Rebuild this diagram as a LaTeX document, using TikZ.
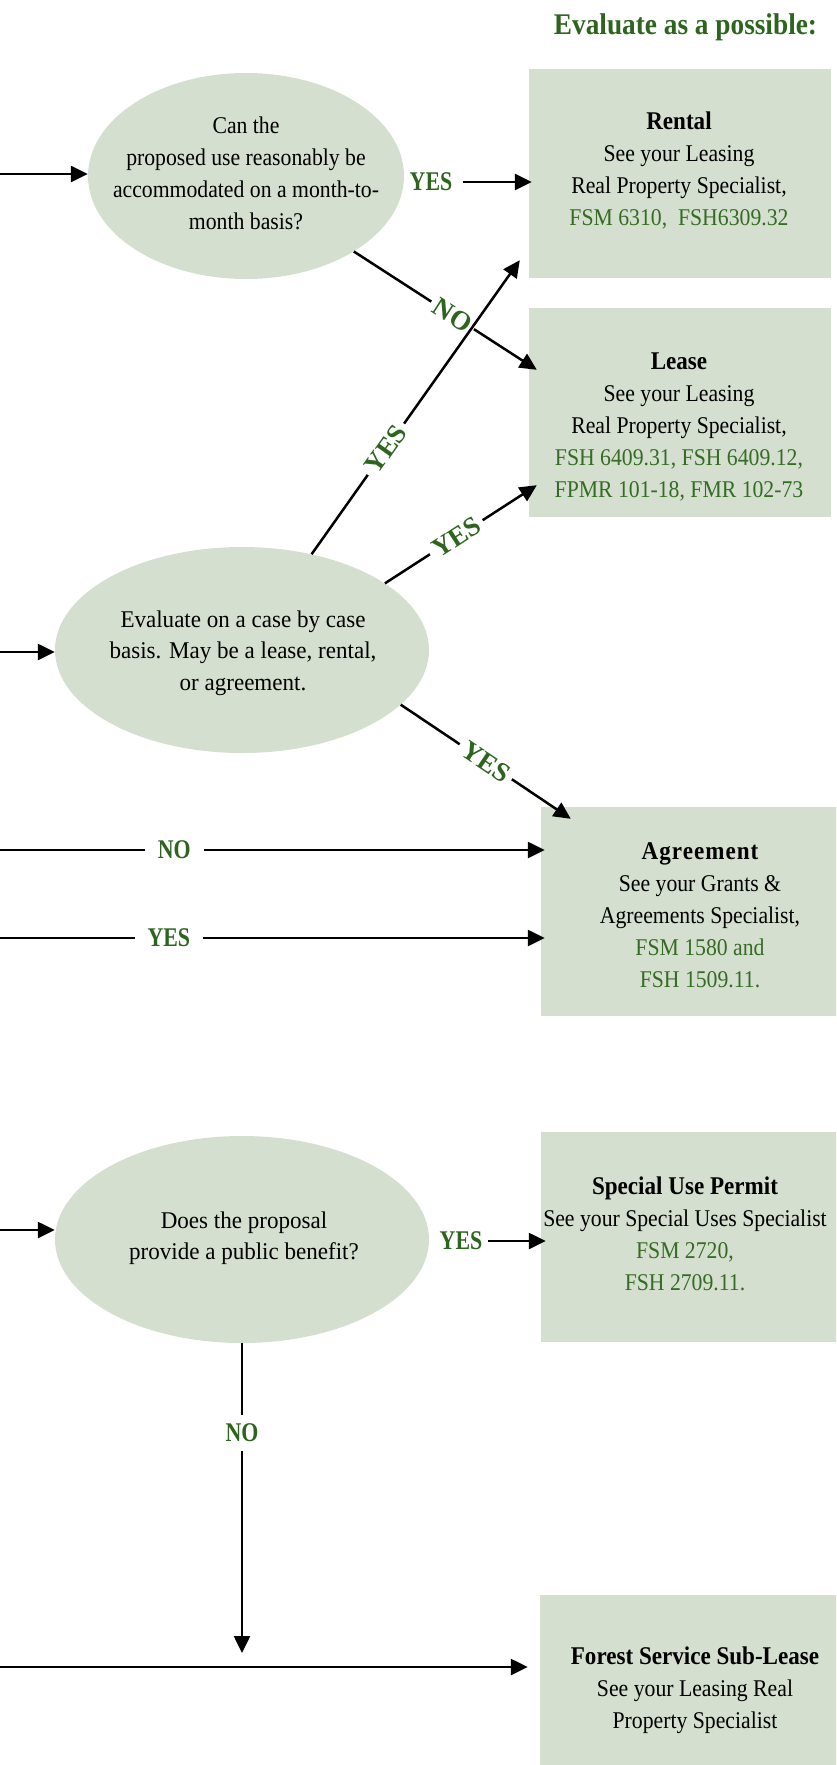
\documentclass[tikz,border=0pt]{standalone}
\usepackage{fontspec}
\setmainfont{Liberation Serif}[FakeStretch=0.905]
\newfontfamily\ellfont{Liberation Serif}[FakeStretch=0.96]
\newfontfamily\titlefont{Liberation Serif}[FakeStretch=0.91]
\newfontfamily\labfont{Liberation Serif}[FakeStretch=0.81]
\newfontfamily\diagfont{Liberation Serif}
\newfontfamily\spacedfont{Liberation Serif}[FakeStretch=0.905, LetterSpace=4]
\usetikzlibrary{arrows.meta,shapes.geometric,calc}
\definecolor{sage}{RGB}{213,223,207}
\definecolor{tgreen}{RGB}{52,108,35}
\definecolor{lgreen}{RGB}{45,100,30}
\newcommand{\hdg}[1]{{\fontsize{25.5}{32}\selectfont\bfseries #1}}
\newcommand{\grn}[1]{\textcolor{tgreen}{#1}}
\tikzset{
  box/.style={rectangle, fill=sage, draw=none, inner sep=0pt},
  ell/.style={ellipse, fill=sage, draw=none, inner sep=0pt},
  txt/.style={align=center, inner sep=0pt, font={\fontsize{24}{32}\selectfont}},
  etxt/.style={align=center, inner sep=0pt, font={\ellfont\fontsize{24}{31.5}\selectfont}},
  arr/.style={line width=2.5pt, -{Triangle[length=17pt,width=16pt]}},
  hlab/.style={fill=white, text=lgreen, font={\labfont\bfseries\fontsize{27}{30}\selectfont}, inner xsep=13pt, inner ysep=2pt},
  plab/.style={text=lgreen, font={\labfont\bfseries\fontsize{27}{30}\selectfont}, inner sep=0pt},
  dlab/.style={fill=white, text=lgreen, font={\diagfont\bfseries\fontsize{27}{30}\selectfont}, sloped, inner xsep=5pt, inner ysep=0pt},
}
\begin{document}
\begin{tikzpicture}[x=1pt,y=-1pt]
\useasboundingbox (0,0) rectangle (836,1765);
\clip (0,0) rectangle (836,1765);

% title
\node[text=lgreen, inner sep=0pt, font={\titlefont\bfseries\fontsize{30}{34}\selectfont}] (title) at (685.5,27) {Evaluate as a possible:};

% ellipses
\node[ell, minimum width=316pt, minimum height=206pt] (e1) at (246,176) {};
\node[txt] (e1t) at (246,173) {Can the\\proposed use reasonably be\\accommodated on a month-to-\\month basis?};
\node[ell, minimum width=374pt, minimum height=206pt] (e2) at (242,650) {};
\node[etxt] (e2t) at (243,653) {Evaluate on a case by case\\basis. May be a lease, rental,\\or agreement.};
\node[ell, minimum width=374pt, minimum height=207pt] (e3) at (242,1239.5) {};
\node[etxt] (e3t) at (244,1238) {Does the proposal\\provide a public benefit?};

% boxes
\node[box, minimum width=302pt, minimum height=209pt] (rental) at (680,173.5) {};
\node[txt] (rentalt) at (679,170) {\hdg{Rental}\\See your Leasing\\Real Property Specialist,\\\grn{FSM 6310,\ \ FSH6309.32}};
\node[box, minimum width=302pt, minimum height=209pt] (lease) at (680,412.5) {};
\node[txt] (leaset) at (679,427) {\hdg{Lease}\\See your Leasing\\Real Property Specialist,\\\grn{FSH 6409.31, FSH 6409.12,}\\\grn{FPMR 101-18, FMR 102-73}};
\node[box, minimum width=309pt, minimum height=209pt] (agr) at (695.5,911.5) {};
\node[txt] (agrt) at (700,915.5) {{\spacedfont\bfseries\fontsize{25.5}{32}\selectfont Agreement}\\See your Grants \&\\Agreements Specialist,\\\grn{FSM 1580 and}\\\grn{FSH 1509.11.}};
\node[box, minimum width=309pt, minimum height=210pt] (sup) at (695.5,1237) {};
\node[txt] (supt) at (685,1234) {\hdg{Special Use Permit}\\See your Special Uses Specialist\\\grn{FSM 2720,}\\\grn{FSH 2709.11.}};
\node[box, minimum width=310pt, minimum height=205pt] (fssl) at (695,1697.5) {};
\node[txt] (fsslt) at (695,1690) {\hdg{Forest Service Sub-Lease}\\See your Leasing Real\\Property Specialist};

% incoming arrows from the left edge
\coordinate (in1) at (0,174);
\coordinate (in2) at (0,652);
\coordinate (inNO) at (0,850);
\coordinate (inYES) at (0,938);
\coordinate (in3) at (0,1230);
\coordinate (in5) at (0,1667);
\coordinate (noend) at (242,1653);

\draw[arr] (in1) -- (in1 -| e1.west);
\draw[arr] (in2) -- (in2 -| e2.west);
\draw[arr] (in3) -- (in3 -| e3.west);
\draw[arr] (inNO) -- ([xshift=4pt]inNO -| agr.west) node[hlab, pos=0.32] (lno) {NO};
\draw[arr] (inYES) -- ([xshift=4pt]inYES -| agr.west) node[hlab, pos=0.31] (lyes) {YES};
\draw[arr] (in5) -- ([xshift=-12pt]in5 -| fssl.west);

% ellipse 1
\node[plab] (l1) at (431,182) {YES};
\draw[arr] ([xshift=11pt]l1.east) -- ([xshift=3pt]l1.east -| rental.west);
\draw[arr] (e1.-35) -- ($(lease.north west)+(8,62)$)
  node[dlab, pos=0.54] (l2) {NO};

% ellipse 2
\draw[arr] (e2.25) -- ($(lease.south west)+(8,-32)$)
  node[dlab, pos=0.47] (l4) {YES};
\draw[arr] (e2.-19) -- ($(agr.north west)+(30,12)$)
  node[dlab, pos=0.5] (l5) {YES};
\draw[arr] (e2.54) -- ($(rental.south west)+(-9,-18)$)
  node[dlab, pos=0.357] (l3) {YES};

% ellipse 3
\node[plab] (l6) at (461,1241) {YES};
\draw[arr] ([xshift=6pt]l6.east) -- ([xshift=5pt]l6.east -| sup.west);
\draw[arr] (e3.south) -- (noend)
  node[hlab, inner xsep=4pt, inner ysep=9pt, pos=0.29] (l7) {NO};
\end{tikzpicture}
\end{document}
